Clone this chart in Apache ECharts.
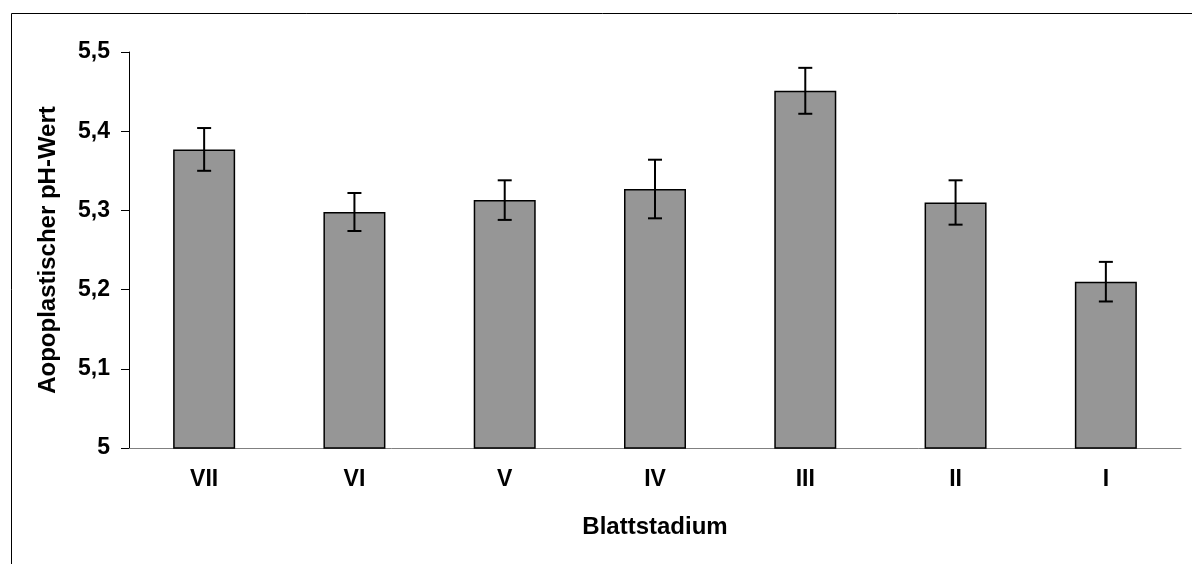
<!DOCTYPE html>
<html>
<head>
<meta charset="utf-8">
<script src="https://cdn.jsdelivr.net/npm/echarts@6/dist/echarts.min.js"></script>
<style>
  html, body { margin: 0; padding: 0; background: #fff; }
  #chart { width: 1192px; height: 564px; }
</style>
</head>
<body>
<div id="chart"></div>
<script>
// Blattstadium (Kategorien) und Messwerte
var stadien = ["VII", "VI", "V", "IV", "III", "II", "I"];
var phWert = [5.377, 5.298, 5.313, 5.327, 5.451, 5.310, 5.210];
var fehler = [0.027, 0.024, 0.025, 0.037, 0.029, 0.028, 0.025];
var yTicks = [5, 5.1, 5.2, 5.3, 5.4, 5.5];

var font = "'Liberation Sans', Arial, sans-serif";

var myChart = echarts.init(document.getElementById('chart'));

var errData = phWert.map(function (v, i) { return [i, v, fehler[i]]; });

var option = {
  backgroundColor: '#fff',
  animation: false,
  graphic: [{
    type: 'rect',
    left: 9, top: 11,
    shape: { width: 1300, height: 700 },
    style: { fill: 'none', stroke: '#000', lineWidth: 1 },
    silent: true
  }],
  grid: {
    left: 129,
    right: 11,
    top: 52,
    bottom: 116
  },
  xAxis: {
    type: 'category',
    data: stadien,
    name: 'Blattstadium',
    nameLocation: 'middle',
    nameGap: 67,
    nameTextStyle: { fontFamily: font, fontWeight: 'bold', fontSize: 24, color: '#000' },
    axisLine: { show: true, lineStyle: { color: '#808080', width: 1 } },
    axisTick: { show: false },
    axisLabel: { margin: 20, fontFamily: font, fontWeight: 'bold', fontSize: 23, color: '#000' }
  },
  yAxis: {
    type: 'value',
    min: yTicks[0],
    max: yTicks[yTicks.length - 1],
    interval: 0.1,
    name: 'Aopoplastischer pH-Wert',
    nameLocation: 'middle',
    nameGap: 69,
    nameTextStyle: { fontFamily: font, fontWeight: 'bold', fontSize: 24, color: '#000' },
    axisLine: { show: true, lineStyle: { color: '#000', width: 1 } },
    axisTick: { show: true, inside: false, length: 8, lineStyle: { color: '#000' } },
    splitLine: { show: false },
    axisLabel: {
      margin: 19,
      fontFamily: font, fontWeight: 'bold', fontSize: 23, color: '#000',
      formatter: function (v) { return String(Number(v.toFixed(1))).replace('.', ','); }
    }
  },
  series: [
    {
      type: 'bar',
      data: phWert,
      barWidth: 62,
      itemStyle: { color: '#969696', borderColor: '#000', borderWidth: 1.5 }
    },
    {
      type: 'custom',
      data: errData,
      z: 5,
      renderItem: function (params, api) {
        var i = api.value(0), m = api.value(1), e = api.value(2);
        var hi = api.coord([i, m + e]);
        var lo = api.coord([i, m - e]);
        var x = hi[0], c = 7;
        var st = { stroke: '#000', lineWidth: 2 };
        return {
          type: 'group',
          children: [
            { type: 'line', shape: { x1: x, y1: hi[1], x2: x, y2: lo[1] }, style: st },
            { type: 'line', shape: { x1: x - c, y1: hi[1], x2: x + c, y2: hi[1] }, style: st },
            { type: 'line', shape: { x1: x - c, y1: lo[1], x2: x + c, y2: lo[1] }, style: st }
          ]
        };
      }
    }
  ]
};

myChart.setOption(option);
</script>
</body>
</html>
